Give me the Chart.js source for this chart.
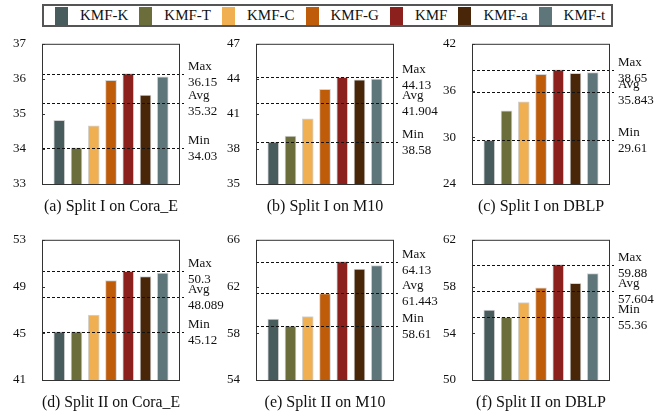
<!DOCTYPE html>
<html>
<head>
<meta charset="utf-8">
<script src="https://cdn.jsdelivr.net/npm/chart.js@4.4.1/dist/chart.umd.min.js"></script>
<style>
  body { margin: 0; background: #fff; width: 663px; height: 413px; position: relative; overflow: hidden;
         font-family: "Liberation Serif", "Times New Roman", serif; }
  #legend { position: absolute; left: 42px; top: 4px; width: 556px; height: 19px; padding-left: 11px;
            border: 2px solid #555; display: flex; align-items: center; white-space: nowrap; }
  .item { display: flex; align-items: center; flex-shrink: 0; margin-right: 11px; font-size: 15px; color: #111; }
  .swatch { width: 13px; height: 18px; margin-right: 12px; }
  canvas { position: absolute; }
</style>
</head>
<body>
<div id="legend"></div>
<script>
const methods = ["KMF-K", "KMF-T", "KMF-C", "KMF-G", "KMF", "KMF-a", "KMF-t"];
const colors = ["#485c5e", "#6b6d3b", "#f0b052", "#bf5c0a", "#8c201d", "#4a2608", "#5e767a"];

// accuracy per method, one array per panel
const split1Cora = [34.82, 34.03, 34.66, 35.96, 36.15, 35.54, 36.06];
const split1M10  = [38.58, 39.11, 40.57, 43.11, 44.13, 43.91, 43.97];
const split1DBLP = [29.61, 33.38, 34.54, 38.09, 38.65, 38.21, 38.30];
const split2Cora = [45.12, 45.12, 46.55, 49.52, 50.3, 49.86, 50.15];
const split2M10  = [59.21, 58.61, 59.43, 61.39, 64.13, 63.49, 63.79];
const split2DBLP = [55.99, 55.36, 56.62, 57.89, 59.88, 58.28, 59.10];

const captions = ["(a) Split I on Cora_E", "(b) Split I on M10", "(c) Split I on DBLP",
                  "(d) Split II on Cora_E", "(e) Split II on M10", "(f) Split II on DBLP"];
const yMins  = [33, 35, 24, 41, 54, 50];
const yMaxs  = [37, 47, 42, 53, 66, 62];
const ySteps = [1, 3, 6, 4, 4, 4];
const maxLabels = ["36.15", "44.13", "38.65", "50.3", "64.13", "59.88"];
const avgLabels = ["35.32", "41.904", "35.843", "48.089", "61.443", "57.604"];
const minLabels = ["34.03", "38.58", "29.61", "45.12", "58.61", "55.36"];

const panelData = [split1Cora, split1M10, split1DBLP, split2Cora, split2M10, split2DBLP];
const frameLefts = [42, 256, 472];
const frameTops = [38, 234];
const serif = '"Liberation Serif", "Times New Roman", serif';

// legend
const legend = document.getElementById("legend");
methods.forEach((m, i) => {
  const item = document.createElement("div");
  item.className = "item";
  item.innerHTML = `<span class="swatch" style="background:${colors[i]}"></span><span>${m}</span>`;
  legend.appendChild(item);
});

// dotted max/avg/min lines, their labels, the box round the plot and small inward ticks
const refLines = {
  id: "refLines",
  afterDatasetsDraw(chart, args, opts) {
    const { ctx, chartArea: a, scales: { y } } = chart;
    ctx.save();
    ctx.strokeStyle = "#111";
    ctx.lineWidth = 1;
    ctx.setLineDash([3, 2]);
    ctx.font = "13px " + serif;
    ctx.fillStyle = "#111";
    ctx.textAlign = "left";
    opts.marks.forEach(m => {
      const py = Math.round(y.getPixelForValue(parseFloat(m.value))) + 0.5;
      ctx.beginPath();
      ctx.moveTo(a.left, py);
      ctx.lineTo(a.right + 4, py);
      ctx.stroke();
      ctx.textBaseline = "bottom";
      ctx.fillText(m.name, a.right + 8, py - 1);
      ctx.textBaseline = "top";
      ctx.fillText(m.value, a.right + 8, py + 2);
    });
    ctx.setLineDash([]);
    ctx.strokeStyle = "#333";
    ctx.strokeRect(a.left + 0.5, a.top + 0.5, a.right - a.left - 1, a.bottom - a.top);
    y.ticks.forEach(t => {
      const py = Math.round(y.getPixelForValue(t.value)) + 0.5;
      ctx.beginPath();
      ctx.moveTo(a.left, py);
      ctx.lineTo(a.left + 3, py);
      ctx.stroke();
    });
    ctx.restore();
  }
};

panelData.forEach((vals, p) => {
  const col = p % 3, row = Math.floor(p / 3);
  const canvas = document.createElement("canvas");
  canvas.width = 230;
  canvas.height = 196;
  canvas.style.left = (frameLefts[col] - 42) + "px";
  canvas.style.top = (frameTops[row] - 10) + "px";
  document.body.appendChild(canvas);

  new Chart(canvas.getContext("2d"), {
    type: "bar",
    data: {
      labels: ["", ...methods, ""],
      datasets: [{
        data: [null, ...vals, null],
        backgroundColor: ["#fff", ...colors, "#fff"],
        borderColor: "#d4d4d4",
        borderWidth: 1,
        barThickness: 11
      }]
    },
    options: {
      responsive: false,
      animation: false,
      layout: { padding: { top: 10, right: 50, bottom: 0, left: 0 } },
      plugins: {
        legend: { display: false },
        tooltip: { enabled: false },
        refLines: {
          marks: [
            { name: "Max", value: maxLabels[p] },
            { name: "Avg", value: avgLabels[p] },
            { name: "Min", value: minLabels[p] }
          ]
        }
      },
      scales: {
        x: {
          offset: false,
          ticks: { display: false },
          grid: { display: false, offset: false },
          border: { display: false },
          title: { display: true, text: captions[p], color: "#111",
                   font: { family: serif, size: 16 }, padding: { top: 0, bottom: 8 } },
          afterFit(s) { s.height = 40; }
        },
        y: {
          min: yMins[p],
          max: yMaxs[p],
          ticks: { stepSize: ySteps[p], color: "#111", padding: 8, font: { family: serif, size: 13 } },
          grid: { display: false },
          border: { display: false },
          afterFit(s) { s.width = 42; }
        }
      }
    },
    plugins: [refLines]
  });
});
</script>
</body>
</html>
